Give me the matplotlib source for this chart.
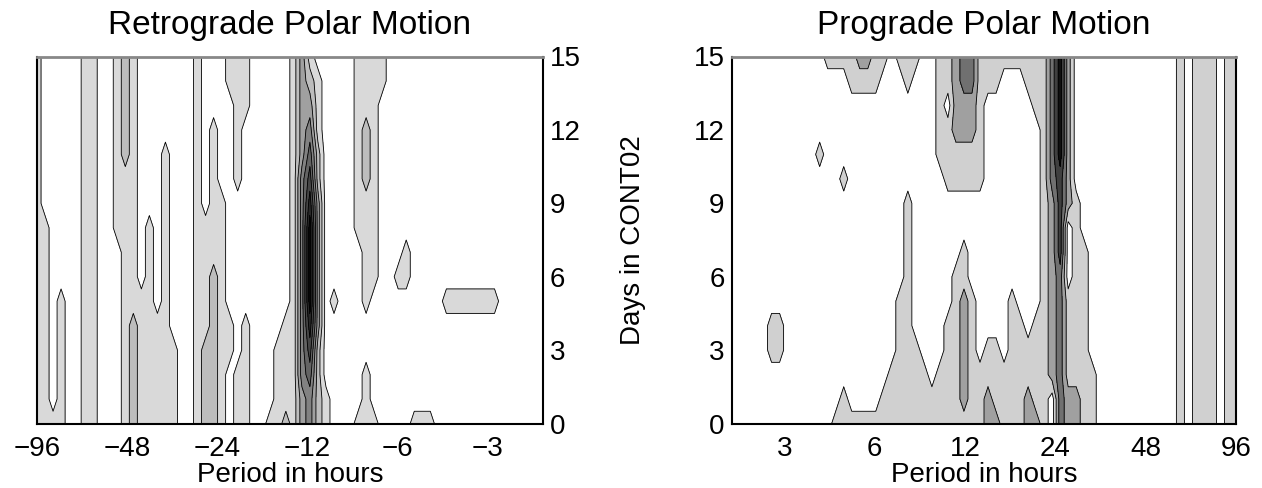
import numpy as np
import matplotlib.pyplot as plt

plt.rcParams['font.family'] = ['Liberation Sans', 'DejaVu Sans']
plt.rcParams['font.size'] = 20

# spectral power level, one string per day
# (first string = day 15, last = day 0), one digit per period bin,
# 64 bins spaced evenly in log(period)
retro_levels = [
    "10000011 00121000 00001000 11100000 13100000 11110000 00000000 00000000",
    "10000011 00121000 00001000 11100000 13210000 11110000 00000000 00000000",
    "10000011 00121000 00001000 01100000 13310000 11100000 00000000 00000000",
    "10000011 00121000 00001010 01000000 13410000 12100000 00000000 00000000",
    "10000011 00121000 10001010 01000000 13520000 12100000 00000000 00000000",
    "10000011 00111000 10001010 01000000 14620000 12100000 00000000 00000000",
    "10000011 00111000 10001011 00000000 14730000 11100000 00000000 00000000",
    "11000011 00111010 10001111 00000000 14830000 11100000 00000000 00000000",
    "11000011 00011010 10001111 00000000 14830000 01100010 00000000 00000000",
    "11000011 00011010 10001121 00000000 14830000 01100110 00000000 00000000",
    "11010011 00011110 10001121 00000000 14830100 01000000 00011111 11000000",
    "11010011 00012111 10001121 10100001 14730000 00000000 00000000 00000000",
    "11010011 00012111 11001221 10100011 14620000 00000000 00000000 00000000",
    "11010011 00012111 11001221 01100011 14520000 01000000 00000000 00000000",
    "11010011 00012111 11001221 01100011 13421000 01000000 00000000 00000000",
    "11110011 00012111 11001221 01100112 13421000 11100001 11000000 00000000",
]

pro_levels = [
    "00000000 00001111 22110111 00112331 11111111 35200000 00000000 10111011",
    "00000000 00000001 11100010 00112331 11000111 35200000 00000000 10111011",
    "00000000 00000000 00000000 00102221 00000011 35200000 00000000 10111011",
    "00000000 00000000 00000000 00112221 00000001 35200000 00000000 10111011",
    "00000000 00010000 00000000 00111111 00000001 35200000 00000000 10111011",
    "00000000 00000010 00000000 00011111 00000001 34200000 00000000 10111011",
    "00000000 00000000 00000010 00000000 00000001 24210000 00000000 10111011",
    "00000000 00000000 00000010 00000000 00000001 24010000 00000000 10111011",
    "00000000 00000000 00000010 00000100 00000001 24011000 00000000 10111011",
    "00000000 00000000 00000010 00001100 00000001 23011000 00000000 10111011",
    "00000000 00000000 00000110 00001210 00010001 23111000 00000000 10111011",
    "00000110 00000000 00000110 00011210 00011011 23111000 00000000 10111011",
    "00000110 00000000 00000111 00011210 11011111 23111000 00000000 10111011",
    "00000000 00000000 00001111 10111211 11111111 23111100 00000000 10111011",
    "00000000 00000010 00011111 11111211 21111211 03221100 00000000 10111011",
    "00000000 00000111 11111111 11111111 22111221 03221100 00000000 10111011",
]

days = np.arange(16)
retro_periods = -np.geomspace(96, 1.96, 64)
pro_periods = np.geomspace(2.0, 96.5, 64)

retro_ticks = [-96, -48, -24, -12, -6, -3]
pro_ticks = [3, 6, 12, 24, 48, 96]
day_ticks = [0, 3, 6, 9, 12, 15]

retro_colors = ['white', '#d9d9d9', '#bdbdbd', '#a0a0a0', '#828282',
                '#646464', '#474747', '#292929', '#0c0c0c']
pro_colors = ['white', '#d0d0d0', '#a0a0a0', '#707070', '#404040', '#101010']


def to_grid(rows):
    z = np.array([[int(c) for c in r.replace(" ", "")] for r in rows[::-1]])
    return z + 0.5


def draw(ax, periods, rows, colors, ticks):
    z = to_grid(rows)
    x = np.log2(np.abs(periods))
    bounds = np.arange(len(colors) + 1)
    ax.contourf(x, days, z, levels=bounds, colors=colors)
    ax.contour(x, days, z, levels=bounds[1:-1], colors='k', linewidths=0.6)
    ax.set_xlim(x[0], x[-1])
    ax.set_ylim(0, 15)
    ax.set_xticks(np.log2(np.abs(ticks)))
    ax.set_xticklabels([str(t).replace('-', '\u2212') for t in ticks])
    ax.set_yticks(day_ticks)
    ax.tick_params(axis='x', length=0, pad=9)
    ax.tick_params(axis='y', length=0, pad=5)
    ax.set_xlabel('Period in hours', labelpad=0)
    for s in ['left', 'right', 'bottom']:
        ax.spines[s].set_linewidth(1.5)
    ax.spines['top'].set_color('#888888')
    ax.spines['top'].set_linewidth(2)


fig = plt.figure(figsize=(12.62, 4.88), dpi=100)
ax1 = fig.add_axes([37 / 1262, 64.5 / 488, 505.7 / 1262, 367 / 488])
ax2 = fig.add_axes([731.5 / 1262, 64.5 / 488, 505 / 1262, 367 / 488])

draw(ax1, retro_periods, retro_levels, retro_colors, retro_ticks)
ax1.yaxis.tick_right()
ax1.set_title('Retrograde Polar Motion', pad=16)

draw(ax2, pro_periods, pro_levels, pro_colors, pro_ticks)
ax2.set_title('Prograde Polar Motion', pad=16)

fig.text(633 / 1262, 248 / 488, 'Days in CONT02', rotation=90,
         ha='center', va='center')

fig.savefig('out.png', dpi=100)
